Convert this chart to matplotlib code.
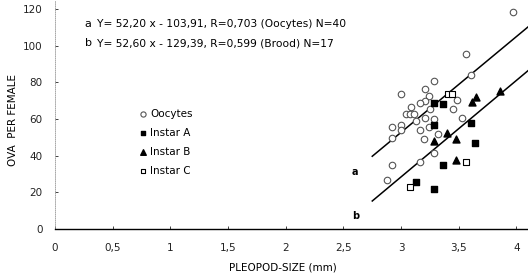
import matplotlib
matplotlib.use("Agg")
import matplotlib.pyplot as plt
from matplotlib.ticker import FuncFormatter

# oocytes (open circles)
ooc_x = [3.565, 3.608, 3.284, 3.002, 3.21, 3.24, 3.203, 3.166, 3.082, 3.045,
         3.074, 3.108, 3.203, 3.126, 3.281, 2.924, 3.002, 2.996, 3.166, 3.241,
         2.924, 3.2, 3.322, 3.487, 3.448, 3.526, 3.284, 2.924, 3.16, 2.877,
         3.968, 3.247]
ooc_y = [95.4, 83.9, 80.7, 73.6, 76.3, 72.6, 69.8, 68.7, 66.6, 62.7,
         62.7, 62.7, 60.7, 58.9, 59.8, 55.7, 56.7, 54.0, 54.0, 55.4,
         49.8, 48.9, 51.6, 70.3, 65.6, 60.3, 41.6, 34.9, 36.3, 26.7,
         118.4, 65.6]

# brood
instA_x = [3.284, 3.362, 3.284, 3.608, 3.642, 3.362, 3.126, 3.284]
instA_y = [68.5, 68.1, 56.7, 57.6, 46.7, 34.9, 25.8, 21.6]
instB_x = [3.65, 3.613, 3.853, 3.284, 3.40, 3.478, 3.48]
instB_y = [72.1, 69.4, 75.4, 48.0, 52.5, 48.9, 37.6]
instC_x = [3.405, 3.443, 3.565, 3.08]
instC_y = [73.4, 73.4, 36.3, 22.7]

# regression lines
reg_a = (52.20, -103.91)
reg_b = (52.60, -129.39)
reg_x = [2.75, 4.1]

xticks = [0, 0.5, 1, 1.5, 2, 2.5, 3, 3.5, 4]
yticks = [0, 20, 40, 60, 80, 100, 120]

plt.rcParams['font.family'] = ['DejaVu Sans']

fig = plt.figure(figsize=(5.28, 2.78), dpi=100)
ax = fig.add_axes([55 / 528, 49 / 278, 473 / 528, 229 / 278])

for m, b in (reg_a, reg_b):
    ax.plot(reg_x, [m * x + b for x in reg_x], color='black', lw=1.1, zorder=2)

ax.scatter(ooc_x, ooc_y, s=22, marker='o', facecolors='white',
           edgecolors='#555555', linewidths=0.8, label='Oocytes', zorder=3)
ax.scatter(instA_x, instA_y, s=20, marker='s', color='black',
           label='Instar A', zorder=3)
ax.scatter(instB_x, instB_y, s=25, marker='^', color='black',
           label='Instar B', zorder=3)
ax.scatter(instC_x, instC_y, s=20, marker='s', facecolors='white',
           edgecolors='black', linewidths=0.8, label='Instar C', zorder=3)

ax.text(2.6, 31, 'a', fontsize=7, fontweight='bold', ha='center', va='center')
ax.text(2.61, 7, 'b', fontsize=7, fontweight='bold', ha='center', va='center')

ax.set_xlim(0, 4.1)
ax.set_ylim(0, 124.8)
ax.set_xticks(xticks)
ax.set_yticks(yticks)
ax.xaxis.set_major_formatter(FuncFormatter(lambda v, p: ('%g' % v).replace('.', ',')))
ax.tick_params(axis='x', direction='in', length=2, width=0.6, pad=10,
               labelsize=7.5, colors='#222222')
ax.tick_params(axis='y', direction='in', length=2, width=0.6, pad=9,
               labelsize=7.5, colors='#222222')

for s in ('top', 'right'):
    ax.spines[s].set_visible(False)
ax.spines['bottom'].set_linewidth(1.0)
ax.spines['left'].set_color('#999999')
ax.spines['left'].set_linewidth(0.6)
ax.spines['left'].set_linestyle((0, (1, 1.5)))

fig.text(13 / 528, 1 - 120 / 278, 'OVA  PER FEMALE', fontsize=7.5,
         rotation=90, ha='center', va='center')
fig.text(283 / 528, 1 - 267 / 278, 'PLEOPOD-SIZE (mm)', fontsize=7.5,
         ha='center', va='center')

fig.text(88 / 528, 1 - 24 / 278, 'a', fontsize=8, ha='center', va='center')
fig.text(97 / 528, 1 - 24 / 278,
         'Y= 52,20 x - 103,91, R=0,703 (Oocytes) N=40', fontsize=7.7,
         ha='left', va='center')
fig.text(88 / 528, 1 - 43 / 278, 'b', fontsize=8, ha='center', va='center')
fig.text(97 / 528, 1 - 43 / 278,
         'Y= 52,60 x - 129,39, R=0,599 (Brood) N=17', fontsize=7.7,
         ha='left', va='center')

ax.legend(loc='upper left', bbox_to_anchor=(140 / 528, 1 - 109 / 278),
          bbox_transform=fig.transFigure, frameon=False, fontsize=7.5,
          handlelength=0.6, handletextpad=0.4, labelspacing=0.85,
          borderpad=0, borderaxespad=0, markerscale=0.8)

fig.savefig('out.png', dpi=100)
